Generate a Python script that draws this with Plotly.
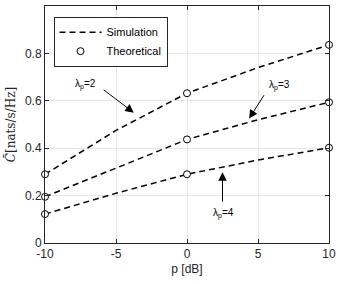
import plotly.graph_objects as go

p_db = [-10, -5, 0, 5, 10]
sim_l2 = [0.29, 0.475, 0.632, 0.74, 0.836]
sim_l3 = [0.195, 0.315, 0.437, 0.52, 0.594]
sim_l4 = [0.122, 0.21, 0.29, 0.35, 0.402]

p_theo = [-10, 0, 10]
theo_l2 = [0.29, 0.632, 0.836]
theo_l3 = [0.195, 0.437, 0.594]
theo_l4 = [0.122, 0.29, 0.402]

x_ticks = [-10, -5, 0, 5, 10]
x_ticktext = ["-10", "-5", "0", "5", "10"]
y_ticks = [0, 0.2, 0.4, 0.6, 0.8, 1]
y_ticktext = ["0", "0.2", "0.4", "0.6", "0.8", "1"]

labels = ["λ<sub>p</sub>=2", "λ<sub>p</sub>=3", "λ<sub>p</sub>=4"]

fig = go.Figure()
for i, ys in enumerate([sim_l2, sim_l3, sim_l4]):
    fig.add_trace(go.Scatter(x=p_db, y=ys, mode="lines", name="Simulation",
                             line=dict(color="black", width=1.5, dash="6px,4px"),
                             showlegend=(i == 0)))
for i, ys in enumerate([theo_l2, theo_l3, theo_l4]):
    fig.add_trace(go.Scatter(x=p_theo, y=ys, mode="markers", name="Theoretical",
                             marker=dict(symbol="circle", size=7, color="white",
                                         line=dict(color="black", width=1)),
                             cliponaxis=False, showlegend=(i == 0)))

font = "Liberation Sans, Arial, sans-serif"
axcommon = dict(showline=True, linecolor="#262626", linewidth=1, mirror="ticks",
                ticks="inside", ticklen=4, tickcolor="#262626",
                showgrid=True, gridcolor="#e6e6e6", gridwidth=1, zeroline=False,
                tickfont=dict(family=font, size=12, color="#262626"))
fig.update_xaxes(range=[-10, 10], tickvals=x_ticks, ticktext=x_ticktext,
                 title=dict(text="p [dB]", font=dict(family=font, size=12, color="#262626"), standoff=4),
                 **axcommon)
fig.update_yaxes(range=[0, 1], tickvals=y_ticks, ticktext=y_ticktext,
                 title=dict(text="<i>C̄</i>[nats/s/Hz]", font=dict(family="DejaVu Serif, serif", size=12, color="#262626"), standoff=6),
                 **axcommon)

arrows = [(-3.75, 0.550, -5.97, 0.651), (4.375, 0.525, 5.49, 0.630), (2.5, 0.298, 2.5, 0.168)]
for (hx, hy, tx, ty) in arrows:
    fig.add_annotation(x=hx, y=hy, ax=tx, ay=ty, xref="x", yref="y", axref="x", ayref="y",
                       text="", showarrow=True, arrowhead=2, arrowsize=1.7, arrowwidth=1, arrowcolor="black")
text_pos = [(-7.15, 0.668), (6.53, 0.664), (2.57, 0.126)]
for (tx, ty), lab in zip(text_pos, labels):
    fig.add_annotation(x=tx, y=ty, xref="x", yref="y", text=lab, showarrow=False,
                       font=dict(family=font, size=10, color="black"))

fig.update_layout(width=341, height=284, margin=dict(l=45, r=8, t=5, b=41),
                  plot_bgcolor="white", paper_bgcolor="white",
                  legend=dict(x=0.03, y=0.955, xanchor="left", yanchor="top",
                              bgcolor="white", bordercolor="#262626", borderwidth=1,
                              font=dict(family=font, size=11, color="black"),
                              itemwidth=42, tracegroupgap=0))
fig.write_html("out.html", config={"displayModeBar": False},
               post_script="document.body.style.margin='0';document.body.style.padding='0';")
